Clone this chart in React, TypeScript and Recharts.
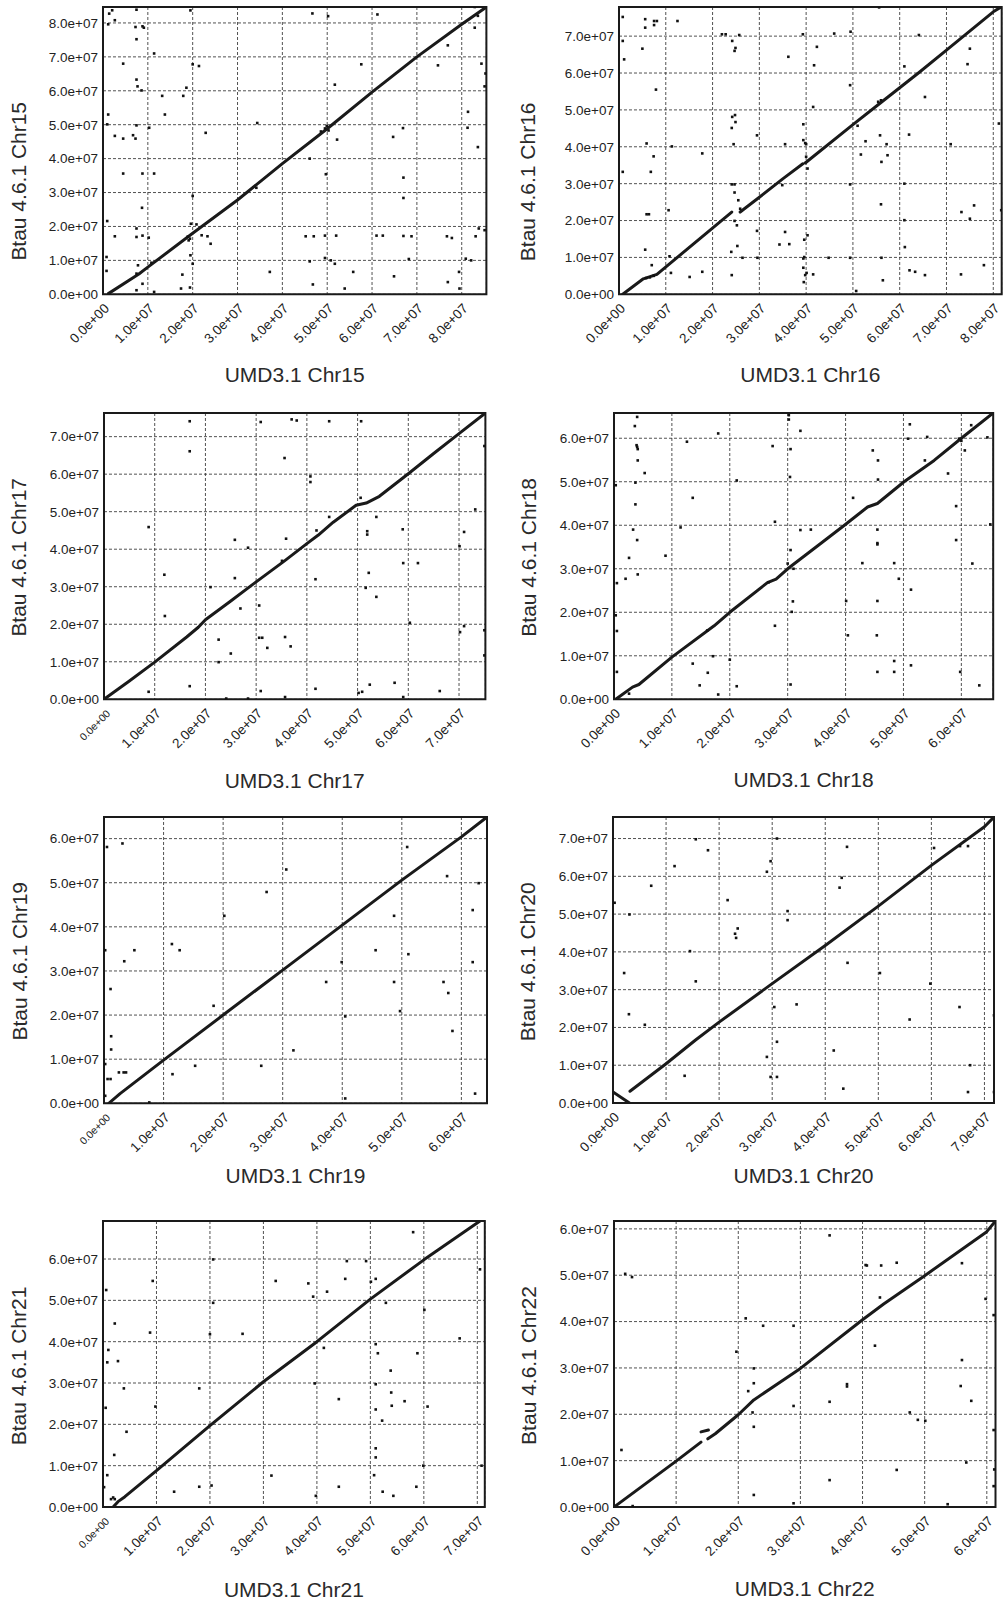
import React from 'react';
import { ScatterChart, Scatter, XAxis, YAxis, CartesianGrid, ReferenceArea } from 'recharts';

type Pt = [number, number];

// ---------- Chr15 ----------
const chr15Dots: Pt[] = [
  [1.38, 82.75], [2.05, 83.73], [1.16, 79.6], [2.64, 80.8], [7.47, 83.9], [7.25, 78.8], [8.81, 79.0], [9.11, 78.6],
  [7.47, 75.2], [4.5, 68.0], [7.47, 63.3], [7.7, 61.3], [8.6, 60.1], [11.4, 71.0], [1.16, 53.0], [0.94, 50.1],
  [2.64, 46.7], [4.5, 45.9], [6.7, 46.9], [7.25, 45.9], [7.47, 49.8], [10.3, 49.1], [13.2, 58.5], [13.8, 53.0],
  [18.6, 60.9], [17.9, 58.5], [20.0, 67.8], [21.4, 67.3], [19.5, 83.7], [22.9, 47.6], [4.5, 35.6], [8.8, 35.6],
  [11.4, 35.6], [8.7, 25.5], [20.0, 29.0], [0.94, 21.6], [2.64, 17.1], [7.47, 19.4], [7.47, 16.9], [8.81, 17.3],
  [10.2, 16.7], [7.8, 8.55], [7.47, 6.1], [8.81, 3.1], [10.8, 9.3], [7.47, 1.2], [11.4, 0.7], [0.79, 11.0],
  [0.79, 6.9], [19.5, 11.5], [20.0, 9.0], [19.4, 2.0], [20.85, 20.6], [17.7, 5.8], [17.4, 1.7], [19.6, 20.8],
  [22.0, 17.4], [23.3, 17.1], [24.0, 14.9], [19.1, 15.9], [34.4, 50.5], [34.2, 31.4], [37.2, 6.6], [46.7, 82.8],
  [50.2, 82.0], [51.7, 61.8], [49.7, 35.4], [52.2, 45.6], [46.1, 40.0], [45.2, 17.1], [47.0, 17.1], [49.5, 17.3],
  [52.0, 17.3], [46.1, 9.7], [46.8, 2.9], [49.5, 10.7], [50.8, 10.0], [51.7, 9.0], [53.9, 1.7], [55.8, 6.6],
  [57.6, 67.8], [61.0, 17.3], [62.4, 17.3], [61.2, 82.5], [64.7, 46.4], [66.9, 49.0], [67.0, 34.4], [67.0, 28.4],
  [67.0, 17.2], [68.8, 17.1], [68.2, 10.4], [64.9, 5.3], [74.7, 67.5], [76.9, 73.4], [76.7, 17.1], [77.8, 16.6],
  [76.9, 3.6], [79.4, 6.6], [79.5, 1.7], [80.9, 10.5], [82.1, 10.0], [81.4, 53.8], [81.3, 49.1], [82.9, 78.6],
  [83.6, 82.1], [84.4, 68.0], [83.6, 43.4], [83.8, 19.4], [83.1, 17.1], [85.1, 18.9], [85.1, 61.3], [85.3, 65.1],
  [82.9, 84.7], [48.6, 48.0], [49.5, 48.9], [50.3, 48.3], [49.9, 49.6], [18.9, 17.0], [19.4, 16.4],
];
const chr15Line: Pt[] = [
  [1.2, 0.2], [8, 6], [10, 8], [20, 18], [30, 27.8], [40, 38.5], [50, 48.8], [60, 59.6], [70, 70], [80, 79.6], [85.5, 84.7],
];

// ---------- Chr16 ----------
const chr16Dots: Pt[] = [
  [0.8, 75.2], [0.8, 68.7], [1.1, 63.7], [0.8, 33.2], [5.0, 66.6], [5.6, 74.6], [5.6, 72.3], [7.5, 74.1],
  [7.5, 73.0], [8.1, 74.1], [12.5, 74.1], [7.9, 55.5], [5.9, 40.9], [7.4, 37.4], [6.8, 33.2], [5.9, 21.7],
  [6.4, 21.7], [5.6, 12.1], [7.0, 7.9], [10.6, 22.8], [11.3, 40.1], [10.8, 10.3], [11.1, 5.8], [15.1, 4.7],
  [17.8, 38.2], [17.8, 6.1], [22.0, 70.5], [22.8, 70.5], [24.2, 68.7], [24.7, 66.0], [24.9, 66.8], [25.7, 70.3],
  [24.2, 48.1], [24.8, 48.6], [24.9, 46.7], [24.1, 45.1], [24.5, 40.7], [24.1, 29.8], [24.7, 29.8], [24.7, 27.6],
  [25.5, 25.5], [25.9, 23.2], [24.7, 19.9], [25.2, 18.7], [25.3, 13.1], [24.0, 11.5], [24.1, 5.2], [26.4, 9.9],
  [29.5, 43.1], [29.5, 17.2], [29.6, 9.9], [34.3, 13.5], [35.5, 40.7], [34.9, 29.6], [35.5, 16.9], [36.4, 13.6],
  [36.2, 64.4], [39.3, 70.5], [39.4, 46.1], [39.4, 41.8], [39.8, 41.0], [40.0, 40.7], [40.0, 37.3], [40.3, 34.1],
  [39.6, 14.8], [40.3, 16.0], [39.4, 9.7], [39.4, 7.2], [39.8, 5.2], [39.5, 3.3], [39.6, 10.1], [40.1, 5.8],
  [41.5, 5.4], [41.5, 50.8], [41.7, 62.1], [42.3, 67.1], [46.0, 70.7], [44.8, 9.9], [49.4, 56.7], [49.4, 29.8],
  [49.5, 71.2], [49.4, 9.9], [50.7, 0.9], [51.0, 45.7], [52.7, 41.5], [51.7, 37.9], [55.8, 43.1], [56.1, 35.9],
  [56.0, 24.4], [56.1, 9.9], [56.4, 3.8], [57.2, 40.7], [57.4, 37.7], [61.0, 61.8], [61.0, 30.0], [61.0, 20.1],
  [61.1, 12.8], [62.0, 43.3], [62.1, 6.5], [63.3, 6.1], [64.1, 70.3], [65.4, 53.5], [65.4, 5.2], [70.9, 40.7],
  [73.2, 22.3], [73.1, 5.4], [74.5, 62.4], [75.0, 66.6], [75.0, 20.5], [75.9, 24.1], [78.0, 7.9], [81.2, 46.3],
  [81.7, 22.8], [55.6, 77.8], [5.8, 4.4], [6.6, 4.6], [7.4, 5.0], [56.0, 52.6], [55.4, 52.2],
];
const chr16LineA: Pt[] = [[0.8, 0], [5.2, 4.2], [8.1, 5.4], [24.1, 22.3]];
const chr16LineB: Pt[] = [[25.9, 22.3], [30, 26.3], [35, 31.3], [39.3, 35.4]];
const chr16LineC: Pt[] = [
  [39.8, 35.6], [50, 46], [56, 52], [64, 60], [70, 66.2], [80, 76.6], [81.8, 78],
];

// ---------- Chr17 ----------
const chr17Dots: Pt[] = [
  [16.9, 74.1], [16.9, 66.1], [8.8, 45.9], [11.9, 33.2], [12.0, 22.2], [8.8, 2.0], [16.9, 3.5], [21.0, 29.9],
  [22.6, 15.9], [22.6, 9.9], [25.0, 12.2], [25.8, 42.5], [25.8, 32.3], [26.9, 24.2], [28.4, 40.4], [28.4, 0.2],
  [24.1, 0.2], [30.9, 73.9], [30.6, 25.0], [30.6, 16.4], [31.2, 16.4], [30.9, 2.2], [32.2, 13.7], [35.6, 64.3],
  [37.0, 74.6], [38.0, 74.3], [35.7, 16.6], [35.9, 42.8], [36.8, 14.1], [35.7, 0.6], [35.1, 36.9], [40.7, 59.4],
  [40.7, 57.9], [41.9, 45.0], [41.7, 32.0], [41.7, 2.8], [44.4, 74.1], [44.4, 48.6], [50.7, 74.1], [50.6, 53.7],
  [51.9, 44.8], [51.9, 43.9], [52.2, 33.7], [51.6, 29.7], [53.7, 48.6], [53.7, 27.3], [52.4, 3.9], [50.2, 1.7],
  [50.9, 2.0], [57.3, 4.4], [58.9, 45.3], [59.0, 36.3], [61.9, 36.3], [60.3, 20.4], [59.0, 0.6], [66.2, 2.2],
  [70.1, 40.8], [71.0, 44.6], [73.2, 50.6], [70.2, 17.9], [71.0, 19.5], [75.0, 18.4], [75.0, 11.7], [75.0, 67.5],
];
const chr17Line: Pt[] = [
  [0, 0], [5, 4.9], [10, 9.9], [16.3, 16.6], [18.6, 19.2], [20, 21.2], [25, 26.2], [30, 31.3], [35.6, 36.9], [40, 41.5],
  [42.2, 43.7], [45.2, 47.2], [49.7, 51.7], [51.7, 52.3], [54.3, 54.1], [60, 60.1], [65, 65.5], [70, 70.8], [75.2, 76.3],
];

// ---------- Chr18 ----------
const chr18Dots: Pt[] = [
  [4.0, 64.9], [3.6, 62.8], [3.9, 58.4], [4.0, 58.0], [4.1, 57.5], [4.1, 54.9], [5.3, 52.0], [3.7, 49.8],
  [0.3, 49.2], [3.7, 44.8], [3.3, 39.0], [4.0, 36.6], [2.6, 32.5], [2.0, 27.7], [4.1, 28.7], [0.5, 26.7],
  [0.3, 19.3], [0.5, 15.7], [0.5, 6.3], [2.6, 1.3], [12.6, 59.2], [18.0, 61.1], [11.5, 39.5], [8.9, 33.0],
  [13.6, 46.3], [13.6, 8.2], [14.8, 3.2], [16.2, 6.1], [17.1, 9.9], [18.0, 1.1], [20.0, 9.1], [21.2, 50.3],
  [21.2, 3.0], [27.4, 58.2], [27.8, 40.8], [27.8, 16.9], [30.2, 65.3], [30.2, 64.3], [30.5, 57.5], [30.4, 51.1],
  [30.5, 34.3], [30.0, 31.2], [30.9, 22.5], [30.7, 20.1], [30.5, 3.4], [32.2, 61.7], [32.2, 38.9], [34.0, 39.0],
  [40.1, 22.6], [40.4, 14.7], [41.3, 46.3], [42.9, 31.3], [44.7, 57.2], [45.6, 54.9], [45.6, 50.5], [45.5, 39.0],
  [45.5, 35.9], [45.5, 35.6], [45.5, 22.6], [45.4, 14.7], [45.5, 6.3], [48.4, 31.3], [48.4, 8.8], [48.4, 6.3],
  [49.2, 27.7], [51.1, 63.2], [50.8, 59.9], [51.3, 25.2], [51.3, 7.8], [53.7, 54.9], [54.1, 60.3], [57.7, 51.9],
  [59.1, 44.4], [59.1, 36.6], [59.8, 6.3], [60.6, 57.2], [61.7, 63.0], [61.9, 31.2], [63.1, 3.2], [64.5, 60.2],
  [65.0, 40.2], [60.0, 59.4], [59.6, 59.9], [31.0, 30.0], [16.1, 15.8], [26.7, 26.9],
];
const chr18Line: Pt[] = [
  [0.3, 0], [3.2, 2.8], [4.3, 3.4], [10, 9.7], [17.3, 16.9], [20, 20], [26.5, 26.8], [28, 27.6],
  [30, 30], [35.7, 35.8], [39.8, 40], [43.8, 44.2], [45.5, 45], [50.1, 50], [55.3, 54.9], [60, 60], [65.5, 65.8],
];

// ---------- Chr19 ----------
const chr19Dots: Pt[] = [
  [0.5, 58.1], [3.1, 58.9], [0.2, 34.7], [5.1, 34.7], [3.4, 32.2], [1.1, 25.9], [1.2, 15.2], [1.2, 12.2],
  [0.2, 8.9], [0.6, 5.5], [1.1, 5.5], [2.5, 7.0], [3.3, 7.0], [3.7, 7.0], [0.2, 1.7], [7.6, 0.2],
  [11.4, 36.1], [12.7, 34.7], [11.5, 6.6], [15.3, 8.5], [18.4, 22.1], [20.2, 42.5], [26.4, 8.5], [27.3, 47.9],
  [30.6, 53.0], [31.8, 12.0], [37.3, 27.5], [39.9, 32.0], [40.5, 19.7], [40.5, 1.1], [45.6, 34.7], [48.7, 42.5],
  [48.7, 27.5], [49.7, 20.9], [50.9, 58.1], [51.1, 33.8], [57.0, 27.5], [57.8, 25.0], [57.6, 51.5], [58.5, 16.4],
  [61.9, 43.8], [61.9, 32.0], [62.9, 49.9], [62.3, 2.2],
];
const chr19Line: Pt[] = [
  [0.8, 0], [2.7, 2.2], [10, 9.8], [20, 20], [30, 30.2], [40, 40.4], [50, 50.6], [60, 60.4], [64.3, 64.9],
];

// ---------- Chr20 ----------
const chr20Dots: Pt[] = [
  [0.3, 53.0], [3.1, 49.9], [2.1, 34.4], [3.0, 23.5], [6.0, 20.7], [7.2, 57.5], [11.6, 62.7], [14.5, 40.2],
  [15.6, 69.8], [15.6, 32.2], [17.9, 66.9], [13.5, 7.2], [21.6, 53.7], [23.0, 44.8], [23.2, 43.7], [23.5, 46.2],
  [29.0, 61.2], [29.7, 64.0], [30.9, 70.0], [32.9, 50.8], [32.9, 48.4], [34.6, 26.1], [29.0, 12.2], [30.4, 25.4],
  [30.9, 16.2], [29.7, 6.9], [30.9, 6.9], [41.6, 13.9], [42.7, 57.0], [43.1, 59.6], [44.1, 67.8], [44.2, 37.1],
  [50.3, 34.4], [43.4, 3.8], [55.9, 22.1], [59.8, 31.6], [60.5, 67.5], [65.3, 25.4], [65.4, 68.0], [66.9, 68.0],
  [67.3, 10.0], [66.9, 2.9], [71.8, 23.2], [71.8, 2.9],
];
const chr20LineInv: Pt[] = [[0, 2.9], [3.1, 0]];
const chr20Line: Pt[] = [
  [3.2, 3.1], [10, 10.4], [15.5, 16.6], [20, 21.4], [30, 31.6], [40, 41.7], [50, 52.1], [60, 62.9], [70, 73.1], [71.8, 75.7],
];

// ---------- Chr21 ----------
const chr21Dots: Pt[] = [
  [0.6, 52.5], [1.0, 38.0], [0.8, 35.0], [2.8, 35.3], [2.2, 44.4], [3.9, 28.7], [0.5, 24.0], [4.4, 18.2],
  [2.1, 12.6], [0.8, 7.7], [0.2, 4.8], [1.5, 1.9], [1.9, 2.3], [2.2, 1.9], [9.3, 54.7], [8.8, 42.2],
  [9.8, 24.3], [13.3, 3.7], [18.0, 4.9], [18.0, 28.7], [20.0, 41.8], [20.6, 49.4], [20.6, 59.9], [20.3, 5.2],
  [26.1, 41.9], [32.3, 54.7], [31.5, 7.6], [38.4, 54.1], [39.3, 50.9], [41.9, 52.1], [39.6, 29.9], [39.8, 2.7],
  [41.3, 38.5], [44.1, 26.1], [44.1, 4.9], [45.6, 59.5], [45.3, 55.2], [49.2, 59.5], [50.1, 54.5], [51.0, 55.2],
  [51.0, 39.4], [51.4, 37.2], [51.0, 29.7], [51.0, 23.6], [52.2, 20.9], [51.0, 14.2], [51.0, 12.0], [50.7, 7.7],
  [52.9, 49.4], [53.8, 33.0], [53.9, 27.7], [54.0, 24.5], [52.3, 3.7], [54.3, 2.7], [56.4, 25.6], [58.0, 66.5],
  [58.8, 37.2], [58.6, 4.9], [60.1, 47.7], [59.9, 10.0], [60.7, 24.3], [66.7, 40.8], [70.5, 57.5], [70.8, 10.0],
];
const chr21Line: Pt[] = [
  [1.9, 0], [2.8, 1.3], [4.1, 2.5], [10, 8.8], [20, 19.7], [30, 30.3], [40, 40], [50, 50.3], [60, 59.8], [70.5, 69.2],
];

// ---------- Chr22 ----------
const chr22Dots: Pt[] = [
  [1.8, 50.3], [2.9, 49.6], [1.2, 12.3], [3.0, 0.2], [19.7, 33.5], [21.2, 40.7], [24.0, 39.1], [21.6, 25.0],
  [22.5, 26.7], [22.5, 29.9], [22.3, 20.4], [22.5, 17.3], [22.5, 2.6], [28.9, 39.1], [28.9, 21.8], [28.9, 0.8],
  [34.7, 58.6], [34.7, 22.7], [34.7, 5.8], [37.5, 26.5], [37.5, 26.0], [40.5, 52.2], [40.7, 52.1], [43.0, 52.1],
  [42.8, 45.2], [42.0, 34.8], [45.5, 52.7], [45.5, 8.0], [47.6, 20.4], [48.9, 18.8], [50.1, 18.6], [53.7, 0.6],
  [56.0, 52.6], [56.0, 31.7], [55.8, 26.1], [56.7, 9.6], [57.5, 22.9], [59.8, 44.9], [61.1, 41.4], [61.1, 16.6],
  [61.2, 8.1], [61.1, 4.5],
];
const chr22LineA: Pt[] = [[0, 0], [10, 9.9], [14, 14]];
const chr22LineB: Pt[] = [[14, 16.2], [15.2, 16.6]];
const chr22LineC: Pt[] = [
  [15.1, 14.7], [16.3, 15.8], [20, 19.9], [22.5, 23.1], [30, 29.9], [40, 40.4], [43.4, 43.8], [50, 49.9], [60, 59.4], [61.4, 61.7],
];

// ---------- axis ticks (Mb) ----------
const ticks80 = [0, 10, 20, 30, 40, 50, 60, 70, 80];
const ticks70 = [0, 10, 20, 30, 40, 50, 60, 70];
const ticks60 = [0, 10, 20, 30, 40, 50, 60];

const FONT = '"Liberation Sans", Arial, Helvetica, sans-serif';
const INK = '#1a1a1a';

function fmtSci(v: number): string {
  if (v === 0) return '0.0e+00';
  const bp = v * 1e6;
  const e = Math.floor(Math.log10(bp) + 1e-9);
  const m = bp / Math.pow(10, e);
  return `${m.toFixed(1)}e+${String(e).padStart(2, '0')}`;
}

const toObj = (a: Pt[]) => a.map(([x, y]) => ({ x, y }));

interface PanelCfg {
  name: string;
  pl: number; pr: number; pt: number; pb: number;
  xMax: number; yMax: number;
  xTicks: number[]; yTicks: number[];
  dots: Pt[]; lines: Pt[][];
  xTitle: string; yTitle: string;
  yTitleX: number; yTitleY: number; xTitleBase: number;
  smallZero?: boolean;
}

const DotShape = (p: any) => {
  if (p.cx == null || p.cy == null) return <g />;
  return <rect x={p.cx - 1.3} y={p.cy - 1.3} width={2.6} height={2.6} fill="#111" />;
};
const NoShape = () => <g />;

function Panel(cfg: PanelCfg) {
  const YW = 125, MT = 6, XH = 104, MR = 2;
  const plotW = cfg.pr - cfg.pl;
  const plotH = cfg.pb - cfg.pt;
  const width = plotW + YW + MR;
  const height = plotH + MT + XH;
  const left = cfg.pl - YW;
  const top = cfg.pt - MT;
  const plotBottom = MT + plotH;

  const xTick = (p: any) => {
    const v = p.payload.value;
    const small = cfg.smallZero && v === 0;
    const ax = p.x + 7;
    const ay = plotBottom + 15;
    return (
      <text x={ax} y={ay} transform={`rotate(-45, ${ax}, ${ay})`} textAnchor="end"
        fontSize={small ? 10.5 : 13.5} fill="#222" fontFamily={FONT}>{fmtSci(v)}</text>
    );
  };
  const yTick = (p: any) => (
    <text x={YW - 5} y={p.y} dy="0.36em" textAnchor="end" fontSize={13.5} fill="#222" fontFamily={FONT}>
      {fmtSci(p.payload.value)}
    </text>
  );
  const yTitle = () => {
    const x = cfg.yTitleX - left;
    const y = cfg.yTitleY - top;
    return (
      <text x={x} y={y} transform={`rotate(-90, ${x}, ${y})`} textAnchor="middle" fontSize={21}
        fill="#2a2a2a" fontFamily={FONT}>{cfg.yTitle}</text>
    );
  };
  const xTitle = () => (
    <text x={YW + plotW / 2} y={cfg.xTitleBase - top} textAnchor="middle" fontSize={21}
      fill="#2a2a2a" fontFamily={FONT}>{cfg.xTitle}</text>
  );

  return (
    <div style={{ position: 'absolute', left, top, width, height }}>
      <ScatterChart width={width} height={height} margin={{ top: MT, right: MR, bottom: 0, left: 0 }}>
        <CartesianGrid stroke="#333" strokeDasharray="3 2" strokeWidth={0.85} />
        <XAxis type="number" dataKey="x" domain={[0, cfg.xMax]} ticks={cfg.xTicks} allowDataOverflow
          height={XH} tick={xTick} tickLine={false} axisLine={false} interval={0}
          label={{ content: xTitle }} />
        <YAxis type="number" dataKey="y" domain={[0, cfg.yMax]} ticks={cfg.yTicks} allowDataOverflow
          width={YW} tick={yTick} tickLine={false} axisLine={false} interval={0}
          label={{ content: yTitle }} />
        <ReferenceArea x1={0} x2={cfg.xMax} y1={0} y2={cfg.yMax} fill="none" fillOpacity={0}
          stroke={INK} strokeWidth={2} ifOverflow="visible" />
        {cfg.lines.map((seg, i) => (
          <Scatter key={`l${i}`} data={toObj(seg)} fill={INK} shape={NoShape}
            line={{ stroke: INK, strokeWidth: 3, strokeLinejoin: 'round', strokeLinecap: 'round' }}
            isAnimationActive={false} legendType="none" />
        ))}
        <Scatter data={toObj(cfg.dots)} fill="#111" shape={DotShape} isAnimationActive={false} legendType="none" />
      </ScatterChart>
    </div>
  );
}

const panels: PanelCfg[] = [
  {
    name: '15', pl: 103.3, pr: 486.7, pt: 6.7, pb: 294, xMax: 85.5, yMax: 84.7, xTicks: ticks80, yTicks: ticks80,
    dots: chr15Dots, lines: [chr15Line], xTitle: 'UMD3.1 Chr15', yTitle: 'Btau 4.6.1 Chr15',
    yTitleX: 26.5, yTitleY: 181, xTitleBase: 381.7,
  },
  {
    name: '16', pl: 619, pr: 1001.7, pt: 6.7, pb: 294, xMax: 81.8, yMax: 77.9, xTicks: ticks80, yTicks: ticks70,
    dots: chr16Dots, lines: [chr16LineA, chr16LineB, chr16LineC], xTitle: 'UMD3.1 Chr16', yTitle: 'Btau 4.6.1 Chr16',
    yTitleX: 535.5, yTitleY: 181.5, xTitleBase: 381.7,
  },
  {
    name: '17', pl: 104.3, pr: 485.7, pt: 412.7, pb: 699, xMax: 75.2, yMax: 76.3, xTicks: ticks70, yTicks: ticks70,
    dots: chr17Dots, lines: [chr17Line], xTitle: 'UMD3.1 Chr17', yTitle: 'Btau 4.6.1 Chr17',
    yTitleX: 26.5, yTitleY: 557, xTitleBase: 787.7, smallZero: true,
  },
  {
    name: '18', pl: 613.5, pr: 992.7, pt: 412.7, pb: 699, xMax: 65.5, yMax: 65.8, xTicks: ticks60, yTicks: ticks60,
    dots: chr18Dots, lines: [chr18Line], xTitle: 'UMD3.1 Chr18', yTitle: 'Btau 4.6.1 Chr18',
    yTitleX: 535.5, yTitleY: 557, xTitleBase: 786.7,
  },
  {
    name: '19', pl: 103.7, pr: 486.7, pt: 816.7, pb: 1103, xMax: 64.3, yMax: 64.9, xTicks: ticks60, yTicks: ticks60,
    dots: chr19Dots, lines: [chr19Line], xTitle: 'UMD3.1 Chr19', yTitle: 'Btau 4.6.1 Chr19',
    yTitleX: 26.5, yTitleY: 961, xTitleBase: 1183, smallZero: true,
  },
  {
    name: '20', pl: 613, pr: 994, pt: 816.7, pb: 1102.7, xMax: 71.8, yMax: 75.7, xTicks: ticks70, yTicks: ticks70,
    dots: chr20Dots, lines: [chr20LineInv, chr20Line], xTitle: 'UMD3.1 Chr20', yTitle: 'Btau 4.6.1 Chr20',
    yTitleX: 535.5, yTitleY: 961.5, xTitleBase: 1183,
  },
  {
    name: '21', pl: 103.2, pr: 485, pt: 1221, pb: 1507, xMax: 71.4, yMax: 69.2, xTicks: ticks70, yTicks: ticks60,
    dots: chr21Dots, lines: [chr21Line], xTitle: 'UMD3.1 Chr21', yTitle: 'Btau 4.6.1 Chr21',
    yTitleX: 26.5, yTitleY: 1366, xTitleBase: 1596.7, smallZero: true,
  },
  {
    name: '22', pl: 613.5, pr: 995, pt: 1221, pb: 1507, xMax: 61.4, yMax: 61.7, xTicks: ticks60, yTicks: ticks60,
    dots: chr22Dots, lines: [chr22LineA, chr22LineB, chr22LineC], xTitle: 'UMD3.1 Chr22', yTitle: 'Btau 4.6.1 Chr22',
    yTitleX: 535.5, yTitleY: 1365.5, xTitleBase: 1596,
  },
];

export default function App() {
  return (
    <div style={{ position: 'absolute', left: 0, top: 0, width: 1004, height: 1602, background: '#fff', overflow: 'hidden' }}>
      {panels.map((p) => <Panel key={p.name} {...p} />)}
    </div>
  );
}
